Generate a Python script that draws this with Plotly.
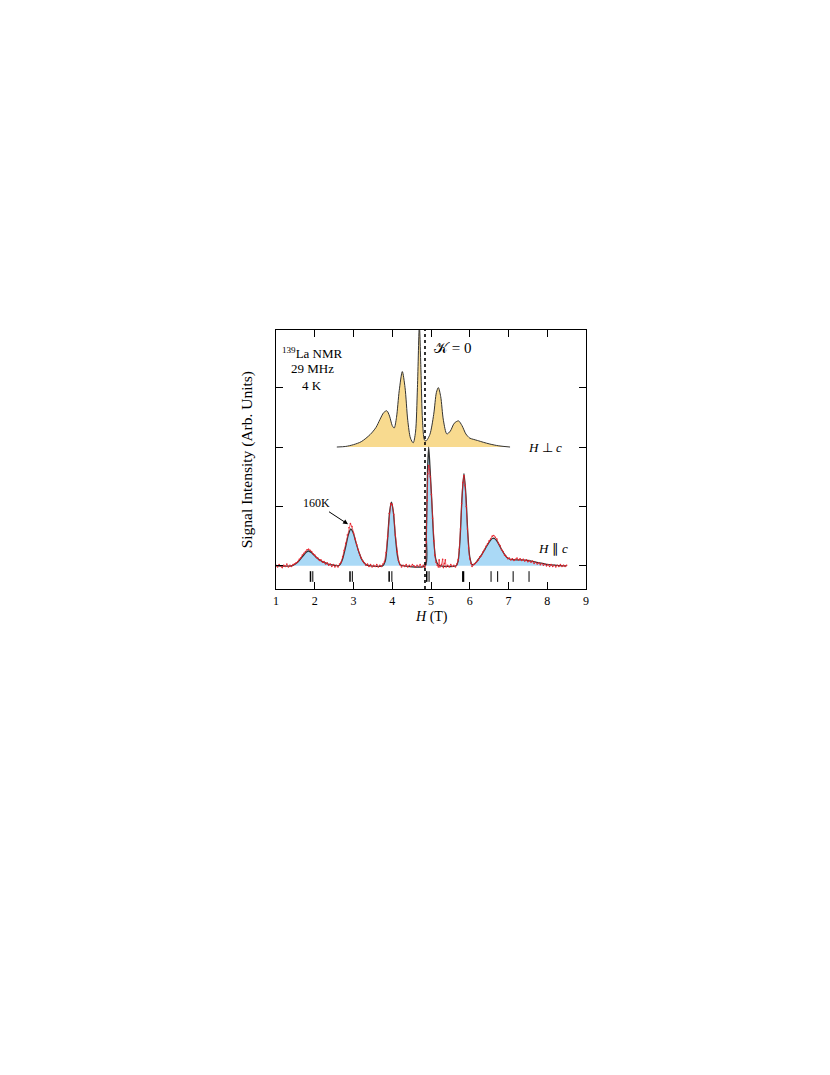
import plotly.graph_objects as go

# ---------------- data ----------------
# H || c : fitted (black) curve
fit_H = [1.00, 1.40, 1.50, 1.60, 1.70, 1.78, 1.84, 1.92, 2.00, 2.10, 2.20, 2.35, 2.50, 2.60,
         2.65, 2.72, 2.80, 2.87, 2.93, 2.99, 3.06, 3.14, 3.22, 3.32, 3.45,
         3.75, 3.82, 3.88, 3.93, 3.98, 4.03, 4.08, 4.14, 4.20, 4.30,
         4.85, 4.88, 4.91, 4.94, 4.97, 5.02, 5.07, 5.12, 5.18, 5.25,
         5.65, 5.70, 5.75, 5.80, 5.85, 5.90, 5.95, 6.00, 6.06,
         6.12, 6.20, 6.30, 6.40, 6.50, 6.58, 6.64, 6.72, 6.80, 6.88, 6.96,
         7.05, 7.20, 7.35, 7.50, 7.65, 7.80, 7.95, 8.10, 8.30, 8.50]
fit_I = [0.00, 0.00, 0.03, 0.09, 0.17, 0.23, 0.25, 0.22, 0.17, 0.11, 0.07, 0.03, 0.01, 0.00,
         0.02, 0.12, 0.33, 0.53, 0.62, 0.56, 0.40, 0.23, 0.10, 0.02, 0.00,
         0.00, 0.08, 0.45, 0.90, 1.07, 0.90, 0.50, 0.15, 0.02, 0.00,
         0.00, 0.50, 1.60, 2.00, 1.70, 1.10, 0.45, 0.12, 0.02, 0.00,
         0.00, 0.08, 0.45, 1.15, 1.55, 1.20, 0.55, 0.15, 0.02,
         0.03, 0.09, 0.18, 0.29, 0.40, 0.46, 0.46, 0.40, 0.30, 0.21, 0.14,
         0.11, 0.10, 0.10, 0.09, 0.07, 0.05, 0.03, 0.015, 0.005, 0.00]

# H || c : 160 K measured spectrum (red)
meas_H = [1.00, 1.04, 1.08, 1.12, 1.16, 1.20, 1.24, 1.28, 1.32, 1.36, 1.40, 1.44, 1.48, 1.52,
          1.56, 1.60, 1.64, 1.68, 1.72, 1.76, 1.80, 1.84, 1.88, 1.92, 1.96, 2.00, 2.04, 2.08,
          2.12, 2.16, 2.20, 2.24, 2.28, 2.32, 2.36, 2.40, 2.44, 2.48, 2.52, 2.56, 2.60, 2.64,
          2.68, 2.72, 2.76, 2.80, 2.84, 2.88, 2.92, 2.96, 3.00, 3.04, 3.08, 3.12, 3.16, 3.20,
          3.24, 3.28, 3.32, 3.36, 3.40, 3.44, 3.48, 3.52, 3.56, 3.60, 3.64, 3.68, 3.72, 3.76,
          3.80, 3.84, 3.88, 3.92, 3.96, 4.00, 4.04, 4.08, 4.12, 4.16, 4.20, 4.24, 4.28, 4.32,
          4.36, 4.40, 4.44, 4.48, 4.52, 4.56, 4.60, 4.64, 4.68, 4.72, 4.76, 4.80, 4.84, 4.86,
          4.88, 4.90, 4.92, 4.94, 4.96, 4.98, 5.01, 5.04, 5.07, 5.10, 5.13, 5.16, 5.19, 5.21,
          5.23, 5.27, 5.30, 5.32, 5.35, 5.37, 5.39, 5.43, 5.47, 5.51, 5.55, 5.59, 5.63, 5.67,
          5.70, 5.73, 5.76, 5.79, 5.82, 5.85, 5.88, 5.91, 5.94, 5.97, 6.00, 6.03, 6.06, 6.10,
          6.14, 6.18, 6.22, 6.26, 6.30, 6.34, 6.38, 6.42, 6.46, 6.50, 6.54, 6.58, 6.62, 6.66,
          6.70, 6.74, 6.78, 6.82, 6.86, 6.90, 6.94, 6.98, 7.02, 7.06, 7.10, 7.14, 7.18, 7.22,
          7.26, 7.30, 7.34, 7.38, 7.42, 7.46, 7.50, 7.54, 7.58, 7.62, 7.66, 7.70, 7.74, 7.78,
          7.82, 7.86, 7.90, 7.94, 7.98, 8.02, 8.06, 8.10, 8.14, 8.18, 8.22, 8.26, 8.30, 8.34,
          8.38, 8.42, 8.46, 8.50]
meas_I = [0.01, -0.02, 0.02, 0.00, -0.03, 0.01, -0.01, 0.03, -0.02, 0.01, -0.01, 0.02, 0.03, 0.05,
          0.07, 0.11, 0.13, 0.18, 0.21, 0.24, 0.27, 0.28, 0.26, 0.24, 0.20, 0.18, 0.14, 0.13,
          0.09, 0.10, 0.06, 0.07, 0.03, 0.05, 0.01, 0.03, -0.01, 0.02, -0.02, 0.01, -0.02, 0.03,
          0.06, 0.15, 0.26, 0.38, 0.52, 0.64, 0.71, 0.66, 0.55, 0.45, 0.36, 0.27, 0.19, 0.13,
          0.08, 0.05, 0.01, 0.03, -0.01, 0.02, -0.02, 0.01, -0.01, 0.02, -0.02, 0.01, -0.01, 0.03,
          0.07, 0.22, 0.50, 0.88, 1.05, 1.03, 0.86, 0.52, 0.24, 0.09, 0.02, -0.02, 0.01, -0.01,
          0.02, -0.02, 0.01, -0.01, 0.02, 0.00, -0.02, 0.01, -0.01, 0.02, -0.02, 0.01, -0.03, 0.02,
          0.40, 1.10, 1.55, 1.69, 1.62, 1.50, 1.20, 0.80, 0.42, 0.18, 0.06, 0.01, -0.02, 0.10,
          -0.02, 0.02, 0.11, -0.03, 0.04, 0.10, -0.02, 0.01, -0.02, 0.02, -0.01, 0.01, -0.02, 0.03,
          0.10, 0.28, 0.62, 1.05, 1.40, 1.52, 1.35, 1.00, 0.62, 0.30, 0.12, 0.04, -0.01, 0.02,
          0.04, 0.07, 0.10, 0.15, 0.17, 0.23, 0.27, 0.33, 0.37, 0.42, 0.45, 0.50, 0.51, 0.48,
          0.45, 0.38, 0.34, 0.27, 0.24, 0.18, 0.16, 0.12, 0.13, 0.10, 0.12, 0.09, 0.11, 0.13,
          0.10, 0.12, 0.09, 0.11, 0.08, 0.10, 0.07, 0.09, 0.06, 0.08, 0.04, 0.06, 0.03, 0.05,
          0.02, 0.04, 0.01, 0.03, 0.00, 0.02, -0.01, 0.02, -0.01, 0.01, -0.02, 0.01, -0.01, 0.02,
          -0.01, 0.01, -0.01, 0.01]

# H ⊥ c spectrum (intensity above its own baseline)
perp_H = [2.57, 2.80, 3.00, 3.20, 3.43, 3.58, 3.68, 3.78, 3.86, 3.93, 4.00, 4.05, 4.11, 4.18,
          4.26, 4.33, 4.40, 4.47, 4.54, 4.60, 4.65, 4.70, 4.74, 4.78, 4.83, 4.87, 4.97, 5.07,
          5.14, 5.19, 5.25, 5.32, 5.41, 5.50, 5.60, 5.71, 5.80, 5.90, 6.00, 6.09, 6.20, 6.35,
          6.52, 6.75, 7.04]
perp_I = [0.00, 0.01, 0.04, 0.09, 0.21, 0.33, 0.46, 0.58, 0.61, 0.52, 0.36, 0.32, 0.50, 0.95,
          1.27, 1.00, 0.45, 0.15, 0.07, 0.25, 1.00, 2.05, 1.30, 0.45, 0.12, 0.10, 0.21, 0.55,
          0.92, 1.00, 0.85, 0.45, 0.22, 0.27, 0.40, 0.44, 0.36, 0.22, 0.15, 0.13, 0.11, 0.08,
          0.05, 0.02, 0.00]

# calculated line positions (stick marks)
stick_thick = [5.83]
stick_mid = [1.89, 2.91, 3.92, 4.89]
stick_thin = [1.95, 2.97, 3.99, 4.95, 6.55, 6.72, 7.12, 7.53]

K0_field = 4.845
x_ticks = [1, 2, 3, 4, 5, 6, 7, 8, 9]

# ---------------- styling ----------------
PERP_OFFSET = 2.0
STICK_TOP, STICK_BOT = -0.09, -0.27
FONT = "Liberation Serif"
YELLOW = "#F8DA8F"
BLUE = "#AAD9F6"
RED = "#E8222C"
DARK = "#333333"

fig = go.Figure()

# H ⊥ c filled spectrum
fig.add_trace(go.Scatter(x=[perp_H[0], perp_H[-1]], y=[PERP_OFFSET, PERP_OFFSET],
                         mode="lines", line=dict(width=0), showlegend=False, hoverinfo="skip"))
fig.add_trace(go.Scatter(x=perp_H, y=[PERP_OFFSET + v for v in perp_I], mode="lines",
                         line=dict(color=DARK, width=1, shape="spline", smoothing=0.8),
                         fill="tonexty", fillcolor=YELLOW, showlegend=False))

# H || c fit, filled
fig.add_trace(go.Scatter(x=fit_H, y=fit_I, mode="lines",
                         line=dict(color=DARK, width=1.3, shape="spline", smoothing=0.7),
                         fill="tozeroy", fillcolor=BLUE, showlegend=False))

# measured 160 K
fig.add_trace(go.Scatter(x=meas_H, y=meas_I, mode="lines+markers",
                         line=dict(color=RED, width=0.7),
                         marker=dict(color=RED, size=1.6), showlegend=False))

# stick marks
def sticks(pos, width):
    xs, ys = [], []
    for h in pos:
        xs += [h, h, None]
        ys += [STICK_TOP, STICK_BOT, None]
    fig.add_trace(go.Scatter(x=xs, y=ys, mode="lines", line=dict(color="black", width=width),
                             showlegend=False, hoverinfo="skip"))

sticks(stick_thick, 2.2)
sticks(stick_mid, 1.5)
sticks(stick_thin, 1.0)

# K = 0 dotted line
fig.add_shape(type="line", xref="x", yref="paper", x0=K0_field, x1=K0_field, y0=0, y1=1,
              line=dict(color="black", width=1.6, dash="dot"))

ann_font = dict(family=FONT, size=13, color="black")
annotations = [
    dict(x=1.93, y=3.59, text="<sup>139</sup>La NMR", showarrow=False, font=ann_font),
    dict(x=1.93, y=3.32, text="29 MHz", showarrow=False, font=ann_font),
    dict(x=1.93, y=3.04, text="4 K", showarrow=False, font=ann_font),
    dict(x=5.02, y=3.66, text="𝒦 = 0", showarrow=False, xanchor="left",
         font=dict(family=FONT, size=15, color="black")),
    dict(x=7.94, y=2.0, text="<i>H</i> ⊥ <i>c</i>", showarrow=False, font=ann_font),
    dict(x=8.15, y=0.30, text="<i>H</i> ∥ <i>c</i>", showarrow=False, font=ann_font),
    dict(x=2.86, y=0.70, text="160K", showarrow=True, ax=-32, ay=-21,
         arrowhead=2, arrowsize=1, arrowwidth=1, arrowcolor="black",
         font=dict(family=FONT, size=12, color="black")),
    dict(xref="paper", yref="paper", x=-0.094, y=0.5, text="Signal Intensity (Arb. Units)",
         textangle=-90, showarrow=False, xanchor="center", yanchor="middle",
         font=dict(family=FONT, size=15.5, color="black")),
    dict(xref="x", yref="paper", x=5, y=-0.108, text="<i>H</i> (T)", showarrow=False,
         xanchor="center", yanchor="middle",
         font=dict(family=FONT, size=14, color="black")),
]
for a in annotations:
    a.setdefault("xref", "x")
    a.setdefault("yref", "y")
    fig.add_annotation(**a)

fig.update_xaxes(range=[1, 9], tickvals=x_ticks, ticktext=[str(t) for t in x_ticks],
                 ticks="inside", ticklen=7, tickwidth=1.2, tickcolor="black",
                 showline=True, linecolor="black", linewidth=1.2, mirror="ticks",
                 showgrid=False, zeroline=False,
                 tickfont=dict(family=FONT, size=12, color="black"))
fig.update_yaxes(range=[-0.39, 3.97], tickvals=[0, 1, 2, 3], showticklabels=False,
                 ticks="inside", ticklen=7, tickwidth=1.2, tickcolor="black",
                 showline=True, linecolor="black", linewidth=1.2, mirror="ticks",
                 showgrid=False, zeroline=False)

fig.update_layout(width=814, height=1059, margin=dict(l=268, r=236, t=322, b=478),
                  paper_bgcolor="white", plot_bgcolor="white", showlegend=False)

fig.write_html("out.html")
